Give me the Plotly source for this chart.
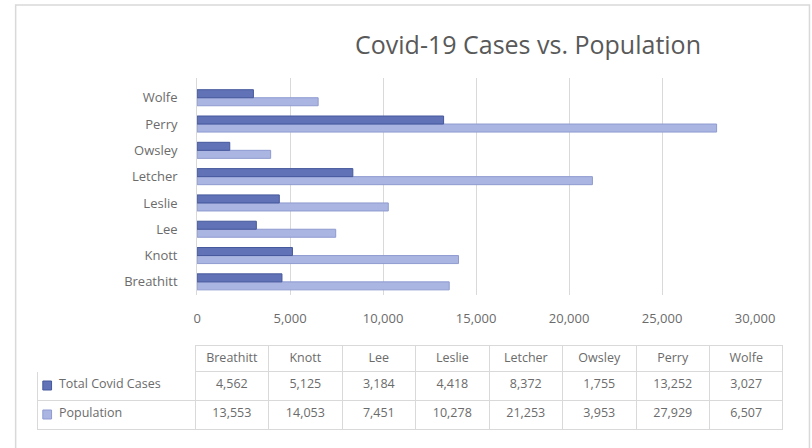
import plotly.graph_objects as go

categories = ["Breathitt", "Knott", "Lee", "Leslie", "Letcher", "Owsley", "Perry", "Wolfe"]
cases = [4562, 5125, 3184, 4418, 8372, 1755, 13252, 3027]
population = [13553, 14053, 7451, 10278, 21253, 3953, 27929, 6507]
series_names = ["Total Covid Cases", "Population"]
x_ticks = [0, 5000, 10000, 15000, 20000, 25000, 30000]

W, H = 812, 448
DARK = "#6173b6"
DARK_LINE = "#46589c"
LIGHT = "#aab5e2"
LIGHT_LINE = "#8f9bd0"
TXT = "#6b6b6b"
GRID = "#d9d9d9"
FONT = "Open Sans, Lato, sans-serif"

def px(x):
    return x / W

def py(y):
    return 1 - y / H

fig = go.Figure()
fig.add_trace(go.Bar(y=categories, x=population, orientation="h", name=series_names[1],
                     marker=dict(color=LIGHT, line=dict(color=LIGHT_LINE, width=1))))
fig.add_trace(go.Bar(y=categories, x=cases, orientation="h", name=series_names[0],
                     marker=dict(color=DARK, line=dict(color=DARK_LINE, width=1))))

def fmt(v):
    return f"{v:,}"

pad = "\u00a0" * 4
first_col = [pad + n for n in series_names]
cell_values = [first_col] + [[fmt(c), fmt(p)] for c, p in zip(cases, population)]
header_values = [""] + categories

fig.add_trace(go.Table(
    domain=dict(x=[px(35), px(803)], y=[py(436), py(345)]),
    columnwidth=[162] + [75.75] * len(categories),
    header=dict(values=header_values, height=26,
                line=dict(color=["white"] + [GRID] * len(categories), width=1),
                fill=dict(color="white"),
                align="center",
                font=dict(family=FONT, size=12.5, color=TXT)),
    cells=dict(values=cell_values, height=29,
               line=dict(color=GRID, width=1),
               fill=dict(color="white"),
               align=["left"] + ["center"] * len(categories),
               font=dict(family=FONT, size=12.5, color=TXT)),
))

# legend keys in the table's first column
swatches = []
for (top, fill, edge) in [(381, DARK, DARK_LINE), (410, LIGHT, LIGHT_LINE)]:
    swatches.append(dict(type="rect", xref="paper", yref="paper",
                         x0=px(40), x1=px(49), y0=py(top + 9), y1=py(top),
                         fillcolor=fill, line=dict(color=edge, width=1)))

fig.update_layout(
    width=W, height=H,
    margin=dict(l=0, r=0, t=0, b=0),
    paper_bgcolor="white", plot_bgcolor="white",
    barmode="group", bargap=0.39, bargroupgap=0.0,
    showlegend=False,
    title=dict(text="Covid-19 Cases vs. Population", x=px(528), xanchor="center",
               y=py(45), yanchor="middle",
               font=dict(family=FONT, size=25, color="#595959")),
    xaxis=dict(domain=[px(199), px(774)], range=[0, 30000], tickvals=x_ticks,
               tickformat=",", showgrid=True, gridcolor=GRID, gridwidth=1,
               zeroline=False, showline=False, ticks="", ticklabelstandoff=14,
               tickfont=dict(family=FONT, size=13, color=TXT)),
    yaxis=dict(domain=[py(295), py(78)], range=[-0.5, 7.75], showgrid=False,
               zeroline=False, showline=True, linecolor=GRID, ticks="",
               ticklabelstandoff=16,
               tickfont=dict(family=FONT, size=13, color=TXT)),
    shapes=[dict(type="rect", xref="paper", yref="paper", x0=px(12), x1=px(830),
                 y0=py(470), y1=py(5), line=dict(color=GRID, width=1.5))] + swatches,
)

fig.write_html("out.html", config={"displayModeBar": False},
               post_script="document.body.style.margin='0';")
